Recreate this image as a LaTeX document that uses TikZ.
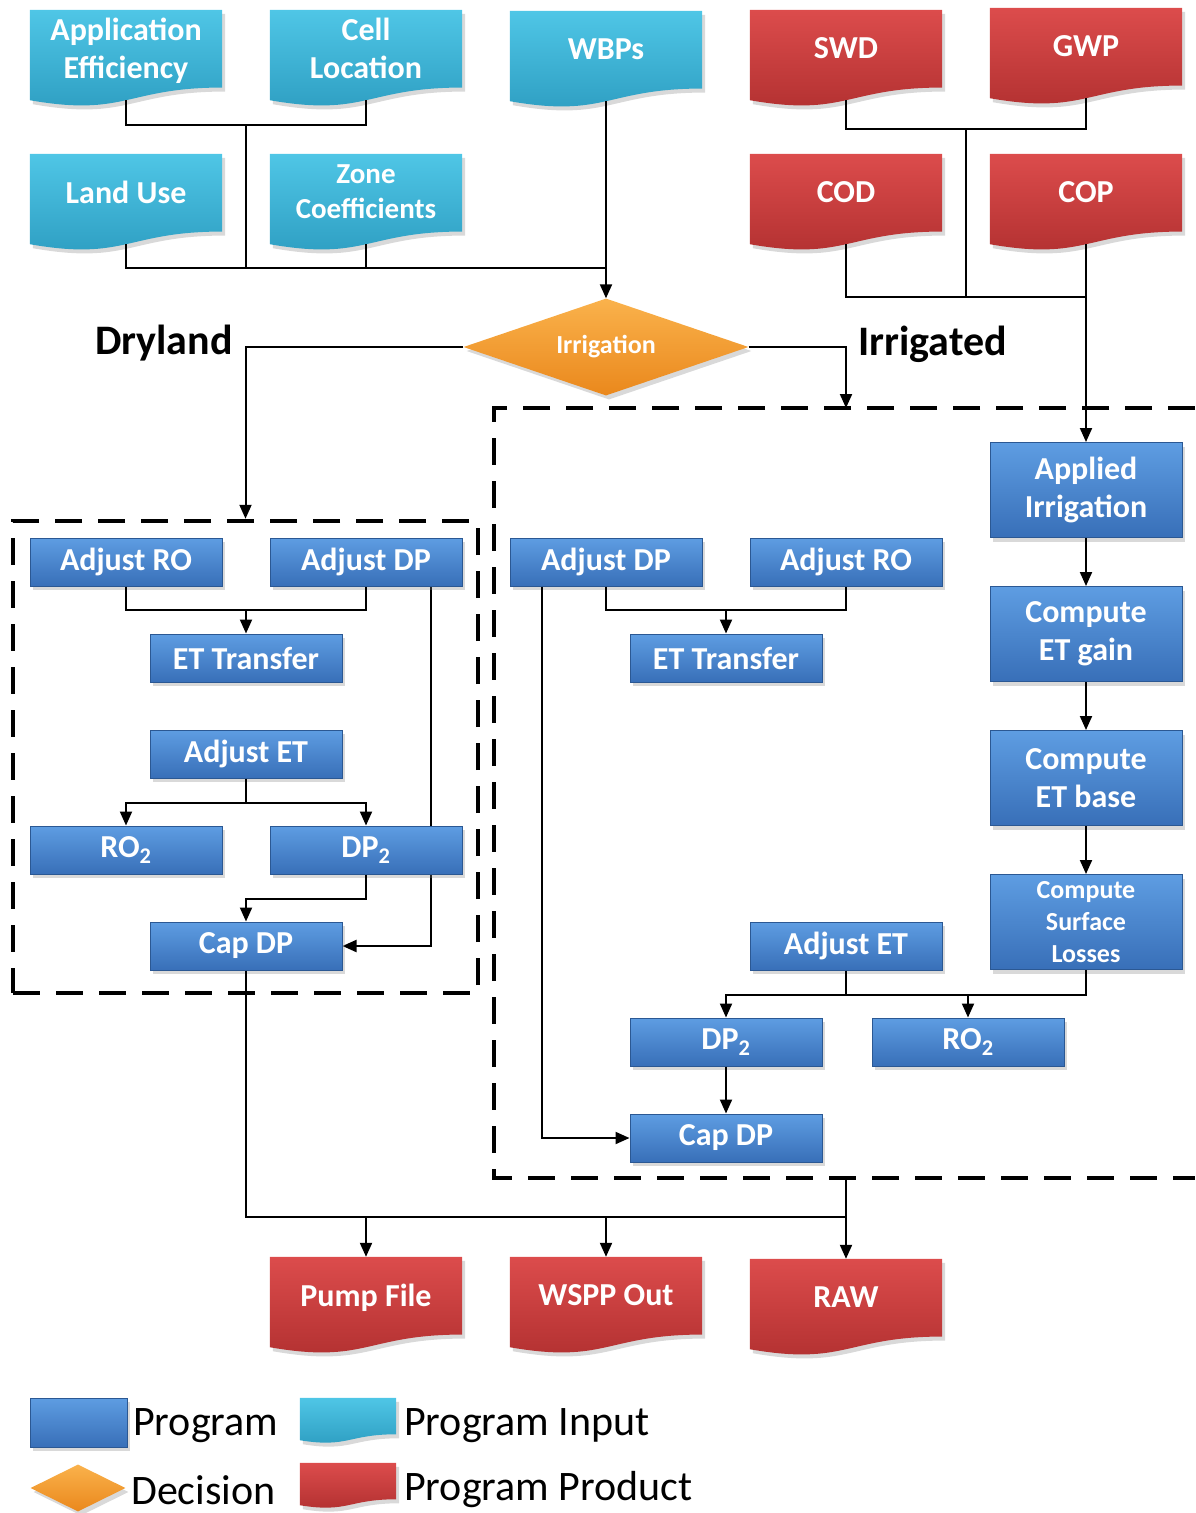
\documentclass[tikz,border=0pt]{standalone}
\usepackage{fontspec}
\setmainfont{Carlito}
\usetikzlibrary{positioning,arrows.meta,shapes.geometric,shadows,backgrounds,calc}

\definecolor{progtop}{HTML}{5E9DE2}
\definecolor{progbot}{HTML}{386FB8}
\definecolor{progline}{HTML}{2B5893}
\definecolor{inptop}{HTML}{4FC6E6}
\definecolor{inpbot}{HTML}{2C9CC0}
\definecolor{prodtop}{HTML}{DC4C4C}
\definecolor{prodbot}{HTML}{B02F2F}
\definecolor{dectop}{HTML}{FAB24C}
\definecolor{decbot}{HTML}{EA881C}

\begin{document}
\begin{tikzpicture}[x=1pt, y=-1pt,
  font=\bfseries\fontsize{32}{38}\selectfont,
  shd/.style={drop shadow={opacity=0.3, shadow xshift=3pt, shadow yshift=-4pt}},
  prog/.style={rectangle, draw=progline, line width=1pt, top color=progtop, bottom color=progbot,
               minimum width=192pt, minimum height=48pt, inner sep=2pt, text=white, align=center, shd},
  tall/.style={prog, minimum height=95pt},
  doc/.style={rectangle, minimum width=192pt, minimum height=90pt, inner sep=2pt, text depth=14pt,
              text=white, align=center},
  inpf/.style={top color=inptop, bottom color=inpbot, shd},
  prodf/.style={top color=prodtop, bottom color=prodbot, shd},
  dec/.style={diamond, shape aspect=2.9, minimum width=285pt, minimum height=97pt, inner sep=1pt,
              top color=dectop, bottom color=decbot, text=white, shd,
              font=\bfseries\fontsize{26}{30}\selectfont},
  grp/.style={draw=black, line width=4.5pt, dash pattern=on 27pt off 16pt},
  ln/.style={line width=2pt},
  arr/.style={ln, -{Triangle[length=14pt,width=12pt]}},
  lbl/.style={font=\bfseries\fontsize{42}{50}\selectfont, inner sep=0pt},
  key/.style={font=\mdseries\fontsize{42}{50}\selectfont, inner sep=0pt, anchor=west}
]
\useasboundingbox (0,0) rectangle (1195,1513);

\node[doc] (ae)  at (126,55)  {Application\\Efficiency};
\node[doc] (cl)  at (366,55)  {Cell\\Location};
\node[doc] (wbp) at (606,56)  {WBPs};
\node[doc] (lu)  at (126,199) {Land Use};
\node[doc, font=\bfseries\fontsize{29}{35}\selectfont] (zc) at (366,199) {Zone\\Coefficients};
\node[doc] (swd) at (846,55)  {SWD};
\node[doc] (gwp) at (1086,53) {GWP};
\node[doc] (cod) at (846,199) {COD};
\node[doc] (cop) at (1086,199) {COP};

\node[dec] (irr) at (606,347) {Irrigation};
\node[lbl, anchor=east] (dry)  at (233,343) {Dryland};
\node[lbl, anchor=west] (wet)  at (858,344) {Irrigated};

\node[grp, minimum width=465pt, minimum height=472pt] (dbox) at (245.5,757) {};
\draw[grp] (1195,408) -- (494,408) -- (494,1178) -- (1195,1178);
\coordinate (iin)  at (846,408);
\coordinate (iout) at (846,1178);

\node[prog] (daro) at (126,562) {Adjust RO};
\node[prog] (dadp) at (366,562) {Adjust DP};
\node[prog] (detr) at (246,658) {ET Transfer};
\node[prog] (daet) at (246,754) {Adjust ET};
\node[prog] (dro)  at (126,850) {RO\textsubscript{2}};
\node[prog] (ddp)  at (366,850) {DP\textsubscript{2}};
\node[prog] (dcap) at (246,946) {Cap DP};

\node[tall] (ai)  at (1086,490) {Applied\\Irrigation};
\node[tall] (etg) at (1086,634) {Compute\\ET gain};
\node[tall] (etb) at (1086,778) {Compute\\ET base};
\node[tall, font=\bfseries\fontsize{26}{32}\selectfont] (sl) at (1086,922) {Compute\\Surface\\Losses};
\node[prog] (iadp) at (606,562)  {Adjust DP};
\node[prog] (iaro) at (846,562)  {Adjust RO};
\node[prog] (ietr) at (726,658)  {ET Transfer};
\node[prog] (iaet) at (846,946)  {Adjust ET};
\node[prog] (idp)  at (726,1042) {DP\textsubscript{2}};
\node[prog] (iro)  at (968,1042) {RO\textsubscript{2}};
\node[prog] (icap) at (726,1138) {Cap DP};

\node[doc] (pump) at (366,1302) {Pump File};
\node[doc] (wspp) at (606,1302) {WSPP Out};
\node[doc] (raw)  at (846,1304) {RAW};

\node[prog, minimum width=97pt, minimum height=49pt] (lprog) at (78.5,1422.5) {};
\node[key] (tprog) at (133,1426) {Program};
\node[dec, minimum width=95pt, minimum height=47pt] (ldec) at (78,1488) {};
\node[key] (tdec) at (131,1490) {Decision};
\node[doc, minimum width=96pt, minimum height=42pt] (linp) at (348,1419) {};
\node[key] (tinp) at (404,1426) {Program Input};
\node[doc, minimum width=96pt, minimum height=42pt] (lprod) at (348,1484) {};
\node[key] (tprod) at (404,1490) {Program Product};

\begin{scope}[on background layer]
  \foreach \n/\s in {ae/inpf, cl/inpf, wbp/inpf, lu/inpf, zc/inpf, linp/inpf,
                     swd/prodf, gwp/prodf, cod/prodf, cop/prodf, pump/prodf, wspp/prodf, raw/prodf, lprod/prodf}
    \path[\s] (\n.north west) -- (\n.north east) -- ($(\n.south east)!0.14!(\n.north east)$)
      .. controls ($(\n.south)!0.14!(\n.north)$) and ($(\n.south)!-0.187!(\n.north)$) .. (\n.south west) -- cycle;
  \draw[arr] ([xshift=-32pt]dadp.south east) |- (dcap.east);
\end{scope}

\coordinate (jtop) at (246,125);
\coordinate (jmid) at (246,268);
\draw[ln] (ae.south) |- (jtop) -| (cl.south);
\draw[ln] (jtop) -- (jmid);
\draw[ln] (lu.south) |- (jmid) -| (zc.south);
\draw[ln] (zc.south) |- (jmid -| wbp.south);
\draw[arr] (wbp.south) -- (irr.north);

\coordinate (rtop) at (966,129);
\coordinate (rmid) at (966,297);
\draw[ln] (swd.south) |- (rtop) -| (gwp.south);
\draw[ln] (rtop) -- (rmid);
\draw[ln] (cod.south) |- (rmid) -| (cop.south);
\draw[arr] (cop.south) -- (ai.north);

\draw[arr] (irr.west) -| (dbox.north);
\draw[arr] (irr.east) -| (iin);

\coordinate (dj1) at (246,610);
\draw[ln] (daro.south) |- (dj1) -| (dadp.south);
\draw[arr] (dj1) -- (detr.north);
\draw[ln] (daet.south) -- ++(0,24) coordinate (dj2);
\draw[arr] (dj2) -| (dro.north);
\draw[arr] (dj2) -| (ddp.north);
\draw[arr] (ddp.south) -- ++(0,24) -| (dcap.north);

\draw[arr] (ai.south) -- (etg.north);
\draw[arr] (etg.south) -- (etb.north);
\draw[arr] (etb.south) -- (sl.north);
\coordinate (ij1) at (726,610);
\draw[ln] (iadp.south) |- (ij1) -| (iaro.south);
\draw[arr] (ij1) -- (ietr.north);
\draw[arr] ([xshift=32pt]iadp.south west) |- (icap.west);
\draw[ln] (iaet.south) -- ++(0,24) coordinate (ij2);
\draw[arr] (ij2) -| (idp.north);
\draw[ln] (sl.south) |- (ij2);
\draw[arr] (iro.north |- ij2) -- (iro.north);
\draw[arr] (idp.south) -- (icap.north);

\coordinate (bus) at (846,1217);
\draw[ln] (dcap.south) |- (bus);
\draw[arr] (pump.north |- bus) -- (pump.north);
\draw[arr] (wspp.north |- bus) -- (wspp.north);
\draw[arr] (iout) -- (raw.north);
\end{tikzpicture}
\end{document}
